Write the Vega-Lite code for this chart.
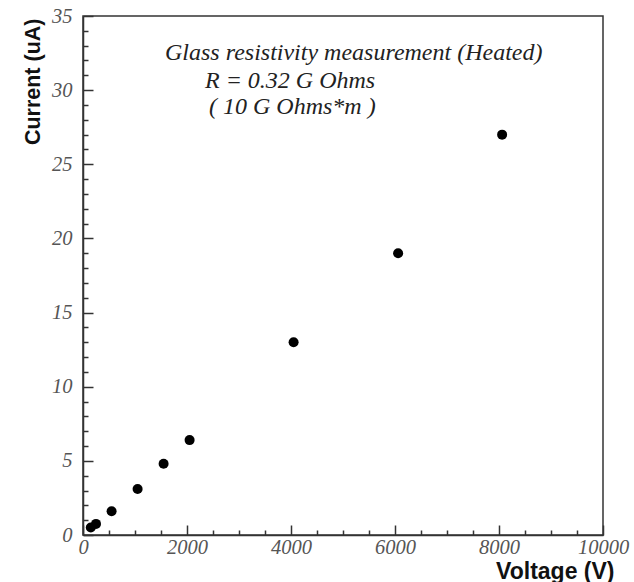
{
  "$schema": "https://vega.github.io/schema/vega-lite/v6.json",
  "width": 520,
  "height": 519,
  "autosize": {"type": "none"},
  "padding": {"left": 83, "top": 16, "right": 31, "bottom": 47},
  "background": "white",
  "config": {
    "view": {"stroke": "#333", "strokeWidth": 1.5},
    "axis": {
      "grid": false,
      "domainColor": "#333",
      "domainWidth": 1.5,
      "tickColor": "#333",
      "tickWidth": 1.5,
      "labelFont": "Liberation Serif",
      "labelFontStyle": "italic",
      "labelFontSize": 20.5,
      "labelColor": "#555",
      "labelOverlap": false,
      "labelFlush": false,
      "titleFont": "Liberation Sans",
      "titleFontWeight": "bold",
      "titleColor": "#111"
    }
  },
  "encoding": {
    "x": {
      "field": "V", "type": "quantitative",
      "scale": {"domain": [0, 10000], "nice": false, "zero": true},
      "axis": {
        "values": [0,500,1000,1500,2000,2500,3000,3500,4000,4500,5000,5500,6000,6500,7000,7500,8000,8500,9000,9500,10000],
        "format": "d",
        "tickSize": {"condition": {"test": "datum.value % 2000 === 0", "value": -10}, "value": -5},
        "labelExpr": "datum.value % 2000 === 0 ? datum.label : ''",
        "labelPadding": 12,
        "title": "Voltage (V)",
        "titleFontSize": 23,
        "titleAnchor": "end",
        "titleAlign": "right",
        "titleBaseline": "top",
        "titleX": 531,
        "titleY": 25
      }
    },
    "y": {
      "field": "I", "type": "quantitative",
      "scale": {"domain": [0, 35], "nice": false, "zero": true},
      "axis": {
        "values": [0,1,2,3,4,5,6,7,8,9,10,11,12,13,14,15,16,17,18,19,20,21,22,23,24,25,26,27,28,29,30,31,32,33,34,35],
        "tickSize": {"condition": {"test": "datum.value % 5 === 0", "value": -10}, "value": -5},
        "labelExpr": "datum.value % 5 === 0 ? datum.label : ''",
        "labelPadding": 21,
        "labelBaseline": "middle",
        "title": "Current (uA)",
        "titleFontSize": 21.5,
        "titleAnchor": "end",
        "titleAngle": -90,
        "titleAlign": "right",
        "titleBaseline": "middle",
        "titleX": -50,
        "titleY": 2
      }
    }
  },
  "layer": [
    {
      "data": {
        "values": [
          {"V": 150, "I": 0.5},
          {"V": 250, "I": 0.75},
          {"V": 550, "I": 1.6},
          {"V": 1050, "I": 3.1},
          {"V": 1550, "I": 4.8},
          {"V": 2050, "I": 6.4},
          {"V": 4050, "I": 13.0},
          {"V": 6060, "I": 19.0},
          {"V": 8060, "I": 27.0}
        ]
      },
      "mark": {"type": "point", "filled": true, "color": "black", "size": 100, "opacity": 1, "strokeWidth": 0}
    },
    {
      "data": {
        "values": [
          {"V": 1577, "I": 32.03, "t": "Glass resistivity measurement (Heated)"},
          {"V": 2346, "I": 30.12, "t": "R = 0.32 G Ohms"},
          {"V": 2423, "I": 28.37, "t": "( 10 G Ohms*m )"}
        ]
      },
      "mark": {"type": "text", "align": "left", "baseline": "alphabetic", "font": "Liberation Serif", "fontStyle": "italic", "fontSize": 24, "color": "#222"},
      "encoding": {
        "text": {"field": "t"}
      }
    }
  ]
}
